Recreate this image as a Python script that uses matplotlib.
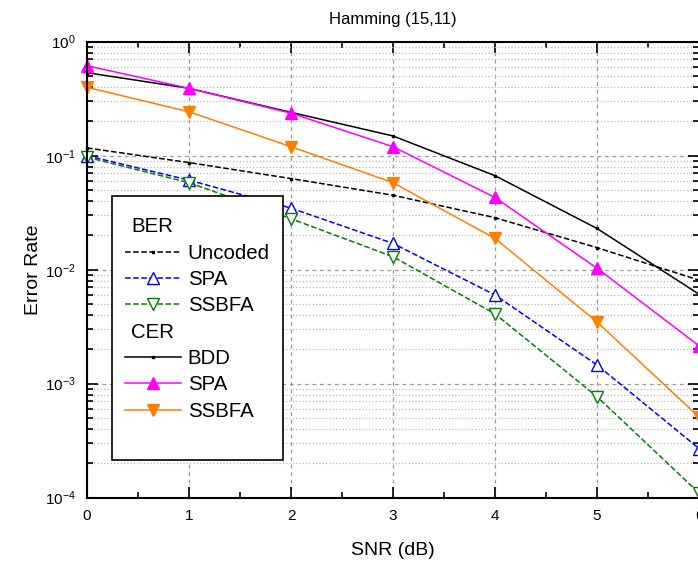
import matplotlib
matplotlib.use('Agg')
import matplotlib.pyplot as plt
from matplotlib.lines import Line2D
from matplotlib.ticker import LogLocator, MultipleLocator, NullFormatter
import numpy as np

plt.rcParams['font.family'] = ['Liberation Sans', 'DejaVu Sans']

snr = [0, 1, 2, 3, 4, 5, 6]
ber_uncoded = [0.117, 0.087, 0.063, 0.045, 0.0286, 0.0156, 0.0081]
ber_spa = [0.100, 0.061, 0.0347, 0.017, 0.0060, 0.00146, 0.00027]
ber_ssbfa = [0.097, 0.058, 0.028, 0.013, 0.0041, 0.00077, 0.00011]
cer_bdd = [0.535, 0.39, 0.24, 0.149, 0.0668, 0.023, 0.0061]
cer_spa = [0.616, 0.39, 0.236, 0.12, 0.043, 0.0103, 0.00215]
cer_ssbfa = [0.398, 0.243, 0.12, 0.058, 0.0188, 0.00348, 0.00051]

fig = plt.figure(figsize=(6.98, 5.67), dpi=100)
ax = fig.add_axes([87/698, 1-497.7/567, 612/698, 456/567])

orange = '#ff8000'
l1, = ax.plot(snr, ber_uncoded, '--', color='black', marker='s', ms=2, lw=1.1)
l2, = ax.plot(snr, ber_spa, '--', color='blue', marker='^', ms=8.5, mfc='white', mew=1, lw=1.1)
l3, = ax.plot(snr, ber_ssbfa, '--', color='green', marker='v', ms=8.5, mfc='white', mew=1, lw=1.1)
l4, = ax.plot(snr, cer_bdd, '-', color='black', marker='s', ms=2, lw=1.1)
l5, = ax.plot(snr, cer_spa, '-', color='magenta', marker='^', ms=9, lw=1.1)
l6, = ax.plot(snr, cer_ssbfa, '-', color=orange, marker='v', ms=9, lw=1.1)
for l in (l1, l2, l3, l4, l5, l6):
  l.set_clip_on(False)

ax.set_yscale('log')
ax.set_xlim(0, 6)
ax.set_ylim(1e-4, 1)
ax.xaxis.set_major_locator(MultipleLocator(1))
ax.xaxis.set_minor_locator(MultipleLocator(0.5))
ax.yaxis.set_major_locator(LogLocator(base=10, numticks=10))
ax.yaxis.set_minor_locator(LogLocator(base=10, subs=np.arange(2, 10), numticks=10))
ax.yaxis.set_minor_formatter(NullFormatter())
ax.tick_params(which='both', direction='in', top=True, right=True, labelsize=11, width=1.2)
ax.tick_params(which='major', length=8, pad=8)
ax.tick_params(which='minor', length=4)
ax.grid(which='major', axis='both', color='#999999', ls=(0, (3, 3)), lw=0.9)
ax.grid(which='minor', axis='y', color='#bbbbbb', ls=':', lw=0.9)
ax.set_axisbelow(True)
for s in ax.spines.values():
  s.set_linewidth(1.5)

ax.set_xlabel('SNR (dB)', fontsize=14, labelpad=14)
ax.set_ylabel('Error Rate', fontsize=14, labelpad=2)
ax.set_title('Hamming (15,11)', fontsize=12, pad=13)

blank = Line2D([], [], linestyle='none')
handles = [blank, l1, l2, l3, blank, l4, l5, l6, blank]
labels = ['BER', 'Uncoded', 'SPA', 'SSBFA', 'CER', 'BDD', 'SPA', 'SSBFA', ' ']
leg = ax.legend(handles, labels, loc='upper left', bbox_to_anchor=(25/612, 1-154/456),
                fontsize=14.7, handlelength=2.75, handletextpad=0.3, labelspacing=0.36,
                borderpad=0.65, borderaxespad=0, fancybox=False, framealpha=1,
                edgecolor='black', title=' ', title_fontsize=1)
leg.get_frame().set_linewidth(1.2)
for hpack in leg._legend_handle_box.get_children()[0].get_children():
  draw_area, text_area = hpack.get_children()
  if text_area.get_children()[0].get_text() in ('BER', 'CER'):
    draw_area.set_width(0)

fig.savefig('out.png', dpi=100)
